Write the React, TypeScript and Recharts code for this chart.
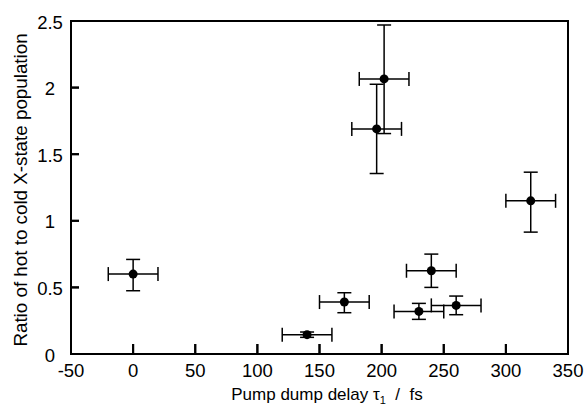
import React from "react";
import { ScatterChart, Scatter, XAxis, YAxis, ErrorBar } from "recharts";

const delays = [0, 140, 170, 196, 202, 230, 240, 260, 320];
const ratios = [0.6, 0.145, 0.39, 1.69, 2.065, 0.32, 0.625, 0.365, 1.15];
const ratioErrLow = [0.125, 0.02, 0.08, 0.335, 0.41, 0.06, 0.125, 0.07, 0.235];
const ratioErrHigh = [0.11, 0.02, 0.07, 0.335, 0.405, 0.06, 0.125, 0.07, 0.215];
const delayErr = [20, 20, 20, 20, 20, 20, 20, 20, 20];

const xTicks = [-50, 0, 50, 100, 150, 200, 250, 300, 350];
const yTicks = [0, 0.5, 1, 1.5, 2, 2.5];

const xLabel = "Pump dump delay τ";
const xLabelSub = "1";
const xLabelUnit = "  /  fs";
const yLabel = "Ratio of hot to cold X-state population";

const data = delays.map((x, i) => ({
  x,
  y: ratios[i],
  ex: [delayErr[i], delayErr[i]],
  ey: [ratioErrLow[i], ratioErrHigh[i]],
}));

const FONT = "'Liberation Sans', Arial, Helvetica, sans-serif";

const XTick = (props: any) => {
  const { x, payload } = props;
  return (
    <g>
      <rect x={x - 1} y={344} width={2} height={10} fill="#000" />
      <text x={x} y={377} textAnchor="middle" fontSize={18.5} fontFamily={FONT} fill="#000">
        {payload.value}
      </text>
    </g>
  );
};

const YTick = (props: any) => {
  const { y, payload } = props;
  return (
    <g>
      <rect x={71} y={y - 1} width={8} height={2} fill="#000" />
      <text x={50} y={y + 7.5} textAnchor="middle" fontSize={18.5} fontFamily={FONT} fill="#000">
        {payload.value}
      </text>
    </g>
  );
};

const Dot = (props: any) => {
  const { cx, cy } = props;
  return <circle cx={cx} cy={cy} r={4.5} fill="#000" />;
};

export default function App() {
  return (
    <div style={{ position: "absolute", left: 0, top: 0, width: 587, height: 405 }}>
      <ScatterChart
        width={587}
        height={405}
        margin={{ top: 20, right: 18, left: 0, bottom: 0 }}
      >
        <XAxis
          type="number"
          dataKey="x"
          domain={[-50, 350]}
          ticks={xTicks}
          tickSize={-10}
          tickMargin={10}
          stroke="#000"
          strokeWidth={2}
          tick={<XTick />}
          height={51}
        />
        <YAxis
          type="number"
          dataKey="y"
          domain={[0, 2.5]}
          ticks={yTicks}
          tickSize={-8}
          tickMargin={8}
          stroke="#000"
          strokeWidth={2}
          tick={<YTick />}
          width={71}
        />
        <XAxis
          xAxisId="top"
          orientation="top"
          type="number"
          domain={[-50, 350]}
          height={1}
          stroke="#000"
          strokeWidth={2}
          tick={false}
        />
        <YAxis
          yAxisId="right"
          orientation="right"
          type="number"
          domain={[0, 2.5]}
          width={1}
          stroke="#000"
          strokeWidth={2}
          tick={false}
        />
        <Scatter data={data} fill="#000" shape={<Dot />} isAnimationActive={false}>
          <ErrorBar dataKey="ex" direction="x" width={7} stroke="#000" strokeWidth={1.5} />
          <ErrorBar dataKey="ey" direction="y" width={7} stroke="#000" strokeWidth={1.5} />
        </Scatter>
      </ScatterChart>
      <div
        style={{
          position: "absolute",
          left: 70,
          top: 20,
          width: 499,
          height: 335,
          border: "2px solid #000",
          boxSizing: "border-box",
          pointerEvents: "none",
        }}
      />
      <svg
        width={587}
        height={405}
        style={{ position: "absolute", left: 0, top: 0, pointerEvents: "none" }}
      >
        <text x={327} y={400} textAnchor="middle" fontSize={17} fontFamily={FONT} fill="#000">
          {xLabel}
          <tspan fontSize={11} dy={4}>{xLabelSub}</tspan>
          <tspan dy={-4} style={{ whiteSpace: "pre" }}>{xLabelUnit}</tspan>
        </text>
        <text
          x={0}
          y={0}
          transform="translate(27, 190) rotate(-90)"
          textAnchor="middle"
          fontSize={18.8}
          fontFamily={FONT}
          fill="#000"
        >
          {yLabel}
        </text>
      </svg>
    </div>
  );
}
